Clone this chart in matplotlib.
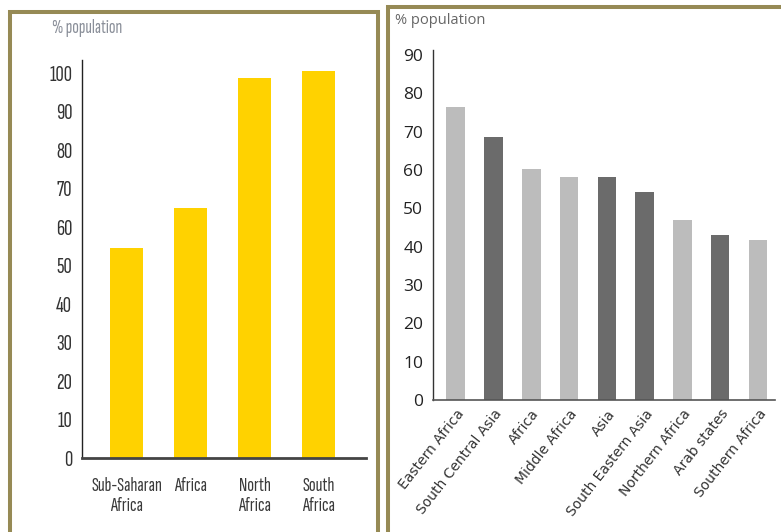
import matplotlib
matplotlib.use("Agg")
from matplotlib import pyplot as plt
from matplotlib.patches import Rectangle

# left panel data
left_cats = ["Sub-Saharan\nAfrica", "Africa", "North\nAfrica", "South\nAfrica"]
left_vals = [54.5, 64.9, 98.7, 100.5]
left_ticks = [0, 10, 20, 30, 40, 50, 60, 70, 80, 90, 100]

# right panel data
right_cats = ["Eastern Africa", "South Central Asia", "Africa", "Middle Africa", "Asia",
              "South Eastern Asia", "Northern Africa", "Arab states", "Southern Africa"]
right_vals = [76.4, 68.5, 60.3, 58.3, 58.3, 54.3, 47.0, 43.0, 41.8]
right_dark = [False, True, False, False, True, True, False, True, False]
right_ticks = [0, 10, 20, 30, 40, 50, 60, 70, 80, 90]

W, H = 781, 532
fig = plt.figure(figsize=(W / 100, H / 100), dpi=100)
frame_col = "#968a55"
narrow = ["Sofia Sans Extra Condensed", "DejaVu Sans"]
plain = ["Open Sans", "DejaVu Sans"]

def px_axes(x0, y0, x1, y1):
    # pixel box (top-left origin) -> figure axes
    return fig.add_axes([x0 / W, 1 - y1 / H, (x1 - x0) / W, (y1 - y0) / H])

# frames
fig.add_artist(Rectangle((10 / W, -0.1), 368 / W, 1.1 - 12 / H, transform=fig.transFigure,
                         fill=False, ec=frame_col, lw=2.9))
fig.add_artist(Rectangle((388 / W, -0.1), 1.0, 1.1 - 7 / H, transform=fig.transFigure,
                         fill=False, ec=frame_col, lw=2.9))

# ---- left chart
ax = px_axes(82, 60, 366, 458)
x = range(len(left_vals))
ax.bar(x, left_vals, width=0.51, color="#ffd200")
ax.set_xlim(-0.695, 3.74)
ax.set_ylim(0, 103.4)
ax.set_yticks(left_ticks)
ax.set_yticklabels([str(t) for t in left_ticks], family=narrow, fontsize=16.5,
                   color="#333333")
ax.set_xticks(list(x))
ax.set_xticklabels(left_cats, family=narrow, fontsize=14.5, color="#3a3a3a",
                   linespacing=1.1, va="top")
ax.tick_params(axis="y", length=0, pad=7)
ax.tick_params(axis="x", length=0, pad=14)
for s in ["top", "right"]:
    ax.spines[s].set_visible(False)
ax.spines["left"].set_color("#222222")
ax.spines["left"].set_linewidth(1.0)
ax.spines["bottom"].set_color("#444444")
ax.spines["bottom"].set_linewidth(2.0)
fig.text(52 / W, 1 - 28 / H, "% population", family=narrow, fontsize=14,
         color="#8a8f99", va="center", ha="left")

# ---- right chart
bx = px_axes(433, 50, 775, 400)
xr = range(len(right_vals))
cols = ["#6b6b6b" if d else "#bcbcbc" for d in right_dark]
bx.bar(xr, right_vals, width=0.49, color=cols)
bx.set_xlim(-0.60, 8.45)
bx.set_ylim(0, 91.3)
bx.set_yticks(right_ticks)
bx.set_yticklabels([str(t) for t in right_ticks], family=plain, fontsize=12.5,
                   color="#222222")
bx.set_xticks(list(xr))
bx.set_xticklabels(right_cats, rotation=52, ha="right", va="top", rotation_mode="anchor",
                   fontsize=10, color="#333333")
bx.tick_params(axis="y", length=0, pad=7)
bx.tick_params(axis="x", length=0, pad=5)
for s in ["top", "right"]:
    bx.spines[s].set_visible(False)
bx.spines["left"].set_color("#333333")
bx.spines["left"].set_linewidth(1.0)
bx.spines["bottom"].set_color("#555555")
bx.spines["bottom"].set_linewidth(1.2)
fig.text(395 / W, 1 - 20 / H, "% population", family=plain, fontsize=10.5,
         color="#666666", va="center", ha="left")

fig.savefig("out.png", dpi=100)
